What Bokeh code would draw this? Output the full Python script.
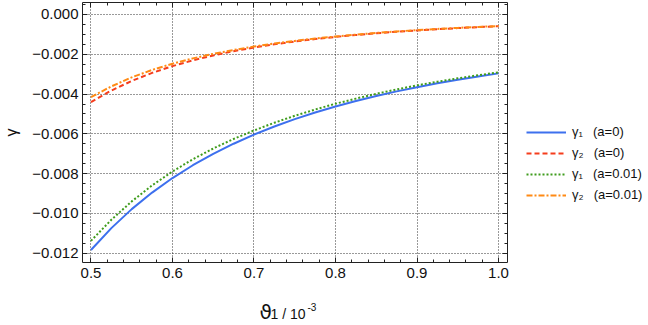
from bokeh.plotting import figure
from bokeh.layouts import column, row
from bokeh.models import (Range1d, LinearAxis, FixedTicker, CustomJSTickFormatter,
                          Legend, LegendItem, Label, Grid)
from bokeh.embed import file_html
from bokeh.resources import INLINE

# ---- data ----
theta = [0.5, 0.525, 0.55, 0.575, 0.6, 0.625, 0.65, 0.675, 0.7, 0.725, 0.75,
         0.775, 0.8, 0.825, 0.85, 0.875, 0.9, 0.925, 0.95, 0.975, 1.0]
gamma1_a0 = [-0.01184, -0.010739, -0.009785, -0.008953, -0.008222, -0.007578,
             -0.007006, -0.006497, -0.006041, -0.005631, -0.005262, -0.004928,
             -0.004625, -0.004349, -0.004097, -0.003866, -0.003654, -0.003459,
             -0.003280, -0.003114, -0.002960]
gamma2_a0 = [-0.004404, -0.003823, -0.003340, -0.002936, -0.002595, -0.002306,
             -0.002058, -0.001844, -0.001660, -0.001499, -0.001359, -0.001236,
             -0.001127, -0.001031, -0.000945, -0.000869, -0.000801, -0.000740,
             -0.000685, -0.000635, -0.000590]
gamma1_a001 = [-0.011380, -0.010319, -0.009395, -0.008593, -0.007892, -0.007278,
               -0.006736, -0.006257, -0.005831, -0.005441, -0.005092, -0.004778,
               -0.004485, -0.004229, -0.003987, -0.003766, -0.003564, -0.003379,
               -0.003210, -0.003054, -0.002910]
gamma2_a001 = [-0.004154, -0.003613, -0.003160, -0.002786, -0.002475, -0.002206,
               -0.001978, -0.001784, -0.001610, -0.001459, -0.001329, -0.001206,
               -0.001107, -0.001011, -0.000927, -0.000852, -0.000786, -0.000726,
               -0.000673, -0.000624, -0.000580]

x_ticks = [0.5, 0.6, 0.7, 0.8, 0.9, 1.0]
x_minor = [round(0.48 + 0.02 * i, 2) for i in range(28)]
y_ticks = [0.0, -0.002, -0.004, -0.006, -0.008, -0.010, -0.012]
y_minor = [round(0.0005 - 0.0005 * i, 4) for i in range(27)]

labels = ["γ\u2081\u2002 (a=0)", "γ\u2082\u2002 (a=0)",
          "γ\u2081\u2002 (a=0.01)", "γ\u2082\u2002 (a=0.01)"]
colors = ["#3d70ee", "#f53d1c", "#3f9c1c", "#ff8a14"]
dashes = ["solid", "5 3", "2 2", "6 2 2 2"]
series = [gamma1_a0, gamma2_a0, gamma1_a001, gamma2_a001]

FONT = "Liberation Sans"
X0, X1 = 0.4896, 1.011
Y0, Y1 = -0.012468, 0.000603
xr = Range1d(X0, X1)

# ---- main figure ----
p = figure(frame_width=425, frame_height=260, output_backend="svg",
           toolbar_location=None, x_range=xr, y_range=Range1d(Y0, Y1),
           x_axis_type=None, y_axis_type=None,
           min_border_left=80, min_border_right=2,
           min_border_top=2, min_border_bottom=30)
p.outline_line_color = "#222222"
p.outline_line_width = 1
p.background_fill_color = "white"
p.border_fill_color = "white"

xt = FixedTicker(ticks=x_ticks, minor_ticks=x_minor)
yt = FixedTicker(ticks=y_ticks, minor_ticks=y_minor)
yfmt = CustomJSTickFormatter(code="""
    const s = Math.abs(tick).toFixed(3);
    return (tick < -1e-12 ? '\u2212' : '') + s;
""")
xfmt = CustomJSTickFormatter(code="return tick.toFixed(1);")
blank = CustomJSTickFormatter(code="return '';")


def style_axis(ax, show_labels):
    ax.axis_line_color = None
    ax.major_tick_in = 5
    ax.major_tick_out = 0
    ax.minor_tick_in = 3
    ax.minor_tick_out = 0
    ax.major_tick_line_color = "#222222"
    ax.minor_tick_line_color = "#222222"
    ax.major_label_text_font = FONT
    ax.major_label_text_color = "#111111"
    if show_labels:
        ax.major_label_text_font_size = "15px"
    else:
        ax.major_label_text_font_size = "0px"
        ax.major_label_standoff = 0


xb = LinearAxis(ticker=xt, formatter=xfmt)
style_axis(xb, True)
xb.major_label_standoff = 5
p.add_layout(xb, "below")

yl = LinearAxis(ticker=yt, formatter=yfmt)
style_axis(yl, True)
yl.major_label_standoff = 4
yl.axis_label = "γ"
yl.axis_label_text_font = FONT
yl.axis_label_text_font_size = "16px"
yl.axis_label_text_font_style = "normal"
yl.axis_label_text_color = "#111111"
yl.axis_label_standoff = 9
p.add_layout(yl, "left")

xa = LinearAxis(ticker=xt, formatter=blank)
style_axis(xa, False)
p.add_layout(xa, "above")

yr = LinearAxis(ticker=yt, formatter=blank)
style_axis(yr, False)
p.add_layout(yr, "right")

for dim, tk in ((0, xt), (1, yt)):
    g = Grid(dimension=dim, ticker=tk)
    g.grid_line_color = "#000000"
    g.grid_line_alpha = 0.8
    g.grid_line_dash = "1 2"
    g.grid_line_width = 1
    p.add_layout(g)

for ys, c, d in zip(series, colors, dashes):
    p.line(theta, ys, line_color=c, line_width=2, line_dash=d)

# ---- strip below for the composite x-axis title ----
H2 = 31
p2 = figure(frame_width=425, height=H2, output_backend="svg", toolbar_location=None,
            x_range=xr, y_range=Range1d(0, H2),
            x_axis_type=None, y_axis_type=None,
            min_border_left=80, min_border_right=2,
            min_border_top=0, min_border_bottom=0)
p2.outline_line_color = None
p2.background_fill_color = "white"
p2.border_fill_color = "white"


def dx(px):
    # page x pixel -> data x
    return 0.5 + (px - 88.5) / 815.0


def lab(px, base_py, text, size, font=FONT):
    # base_py: page y of the text baseline; the strip spans page y 292..323
    p2.add_layout(Label(x=dx(px), y=323 - base_py, text=text, text_font=font,
                        text_font_size=size, text_color="#111111",
                        text_align="left", text_baseline="alphabetic"))


lab(257, 311.5, "ϑ", "20px", font="DejaVu Sans")
lab(268, 313, "1 / 10", "14px")
lab(305, 306.5, "-3", "10px")

# ---- legend panel on the right ----
W3, H3 = 138, 323
OFF = 10  # x-range offset so the swatch renderers' data stay off-canvas
p3 = figure(width=W3, height=H3, output_backend="svg", toolbar_location=None,
            x_range=Range1d(OFF, OFF + W3), y_range=Range1d(0, H3),
            x_axis_type=None, y_axis_type=None,
            min_border_left=0, min_border_right=0,
            min_border_top=0, min_border_bottom=0)
p3.outline_line_color = None
p3.background_fill_color = "white"
p3.border_fill_color = "white"
swatches = [p3.line(theta, series[i], line_color=c, line_width=2, line_dash=d)
            for i, (c, d) in enumerate(zip(colors, dashes))]
legend = Legend(items=[LegendItem(label=t, renderers=[r])
                       for t, r in zip(labels, swatches)],
                location=(17, 323 - 204.5))
legend.glyph_width = 40
legend.glyph_height = 20
legend.label_height = 20
legend.spacing = 1
legend.padding = 0
legend.margin = 0
legend.label_standoff = 6
legend.label_text_font = FONT
legend.label_text_font_size = "13px"
legend.label_text_color = "#111111"
legend.border_line_alpha = 0
legend.background_fill_alpha = 0
p3.add_layout(legend)

layout = row(column(p, p2, spacing=0), p3, spacing=0)
open("out.html", "w").write(file_html(layout, INLINE))
